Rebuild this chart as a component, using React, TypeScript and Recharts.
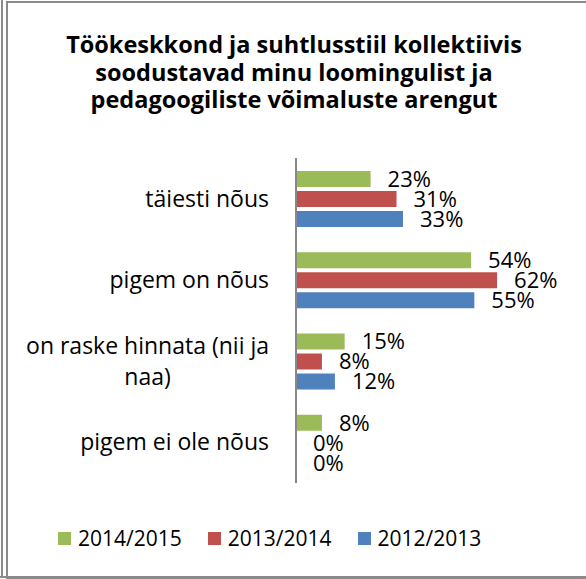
import { BarChart, Bar, XAxis, YAxis, LabelList } from "recharts";

const categories = ["täiesti nõus", "pigem on nõus", "on raske hinnata (nii ja naa)", "pigem ei ole nõus"];
const tickLines = [["täiesti nõus"], ["pigem on nõus"], ["on raske hinnata (nii ja", "naa)"], ["pigem ei ole nõus"]];
const seriesNames = ["2014/2015", "2013/2014", "2012/2013"];
const values2014_2015 = [23, 54, 15, 8];
const values2013_2014 = [31, 62, 8, 0];
const values2012_2013 = [33, 55, 12, 0];
const COLORS = ["#9BBB59", "#C0504D", "#4F81BD"];
const titleLines = [
  "Töökeskkond ja suhtlusstiil kollektiivis",
  "soodustavad minu loomingulist ja",
  "pedagoogiliste võimaluste arengut",
];

const FONT = "'Open Sans', sans-serif";
const FS = 23; // category labels
const NUM_FS = 22; // data labels
const LEGEND_FS = 21;

const data = categories.map((name, i) => ({
  name,
  s1: values2014_2015[i],
  s2: values2013_2014[i],
  s3: values2012_2013[i],
}));

let ctx: CanvasRenderingContext2D | null = null;
const textWidth = (s: string) => {
  if (!ctx) ctx = document.createElement("canvas").getContext("2d");
  if (!ctx) return s.length * FS * 0.5;
  ctx.font = `${FS}px ${FONT}`;
  return ctx.measureText(s).width;
};

const CategoryTick = (props: any) => {
  const { x, y, payload } = props;
  const lines = tickLines[payload.index] || [payload.value];
  if (lines.length === 1) {
    return (
      <text x={x} y={y} dy="0.35em" textAnchor="end" fontSize={FS} fontFamily={FONT} fill="#000">
        {lines[0]}
      </text>
    );
  }
  // wrapped label: lines centred on each other, block right-aligned
  const maxW = Math.max(...lines.map(textWidth));
  const cx = x - maxW / 2;
  const lh = 31;
  const start = y - ((lines.length - 1) * lh) / 2;
  return (
    <g>
      {lines.map((l: string, i: number) => (
        <text key={i} x={cx} y={start + i * lh} dy="0.35em" textAnchor="middle" fontSize={FS} fontFamily={FONT} fill="#000">
          {l}
        </text>
      ))}
    </g>
  );
};

export default function App() {
  return (
    <div style={{ position: "absolute", left: 0, top: 0, width: 586, height: 579, background: "#fff", overflow: "hidden" }}>
      <div style={{ position: "absolute", left: 1, top: 0, width: 2, height: 578, background: "#8a8a8a" }} />
      <div style={{ position: "absolute", left: 0, top: 576, width: 586, height: 2, background: "#8a8a8a" }} />
      <div style={{ position: "absolute", left: 6, top: 1, width: 600, height: 574, border: "2px solid #8a8a8a" }} />
      <div
        style={{
          position: "absolute",
          left: 0,
          top: 31,
          width: 588,
          textAlign: "center",
          fontFamily: FONT,
          fontWeight: 700,
          fontSize: 23.5,
          lineHeight: "27.5px",
          color: "#000",
        }}
      >
        {titleLines.map((t) => (
          <div key={t}>{t}</div>
        ))}
      </div>
      <div style={{ position: "absolute", left: 0, top: 0 }}>
        <BarChart
          width={586}
          height={579}
          data={data}
          layout="vertical"
          margin={{ top: 158, right: 63, bottom: 96, left: 0 }}
          barSize={16}
          barGap={4}
        >
          <XAxis type="number" domain={[0, 70]} hide />
          <YAxis
            type="category"
            dataKey="name"
            width={296}
            axisLine={{ stroke: "#888", strokeWidth: 2 }}
            tickLine={false}
            tickMargin={21}
            tick={<CategoryTick />}
            interval={0}
          />
          {(["s1", "s2", "s3"] as const).map((k, i) => (
            <Bar key={k} dataKey={k} name={seriesNames[i]} fill={COLORS[i]} minPointSize={0.01} isAnimationActive={false}>
              <LabelList
                dataKey={k}
                position="right"
                offset={17}
                formatter={(v: any) => `${v}%`}
                style={{ fontSize: NUM_FS, fontFamily: FONT, fill: "#000" }}
              />
            </Bar>
          ))}
        </BarChart>
      </div>
      <div
        style={{
          position: "absolute",
          left: 58,
          top: 524,
          height: 28,
          display: "flex",
          alignItems: "center",
          fontFamily: FONT,
          fontSize: LEGEND_FS,
          color: "#000",
        }}
      >
        {seriesNames.map((n, i) => (
          <div key={n} style={{ display: "flex", alignItems: "center", marginRight: 26 }}>
            <span style={{ display: "inline-block", width: 13, height: 13, background: COLORS[i], marginRight: 7 }} />
            <span>{n}</span>
          </div>
        ))}
      </div>
    </div>
  );
}
